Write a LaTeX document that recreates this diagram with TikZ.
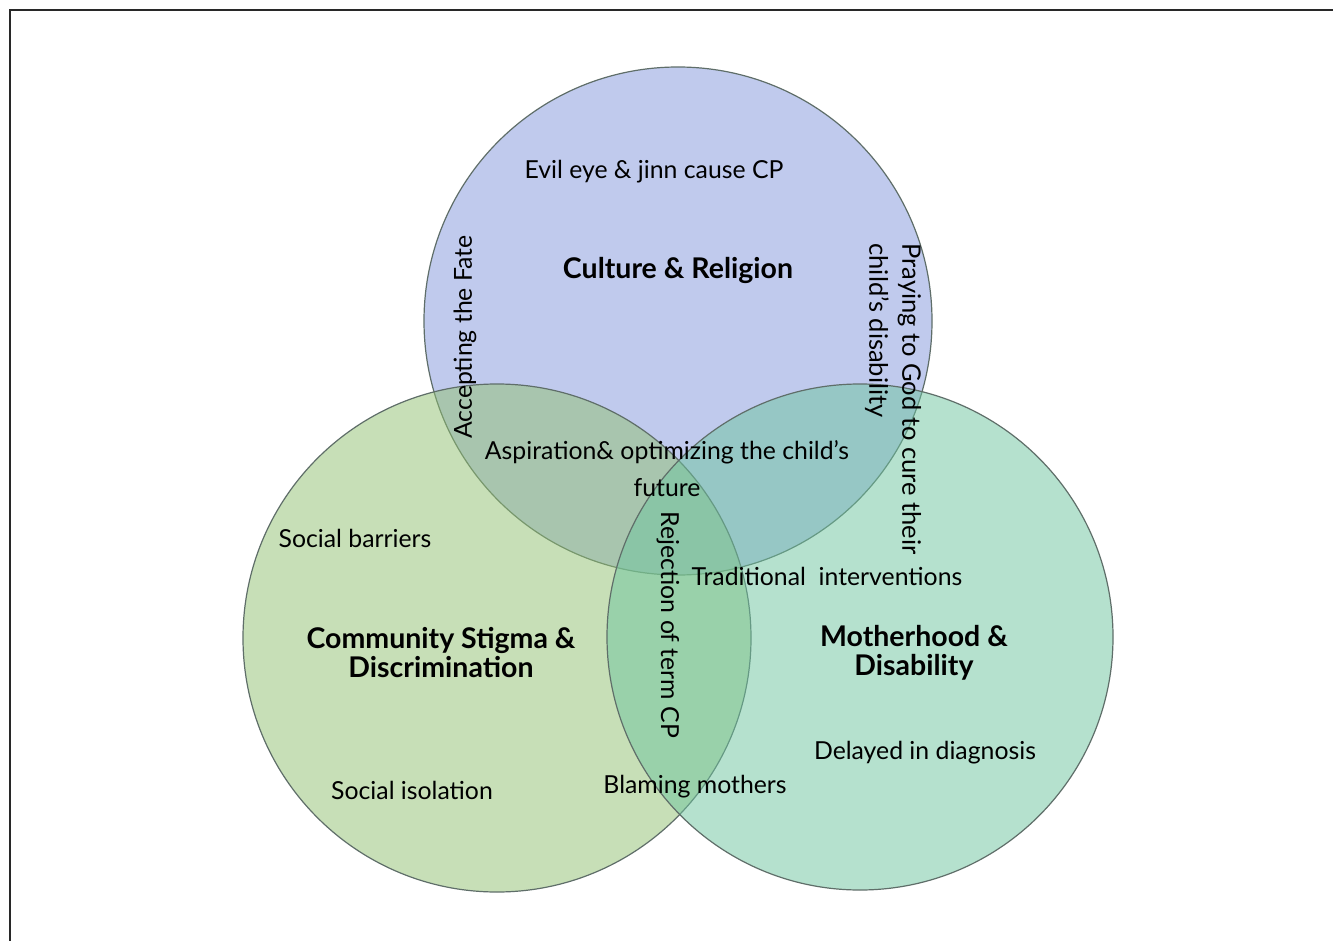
\documentclass[tikz,border=0pt]{standalone}
\usepackage{fontspec}
\setmainfont{Lato}
\definecolor{topc}{RGB}{131,151,221}
\definecolor{leftc}{RGB}{145,193,113}
\definecolor{rightc}{RGB}{109,197,159}
\definecolor{edgec}{RGB}{95,110,105}
\definecolor{framec}{RGB}{40,40,40}
\tikzset{
  setc/.style={draw=edgec, line width=1.2pt, fill opacity=0.5},
  lbl/.style={font=\fontsize{24.8}{28}\selectfont, text=black, inner sep=0pt},
  title/.style={lbl, font=\fontsize{28.5}{29}\selectfont\bfseries, align=center},
}
\begin{document}
\begin{tikzpicture}[x=1pt,y=-1pt]
\useasboundingbox (0,0) rectangle (1333,941);
\fill[white] (0,0) rectangle (1333,941);
\coordinate (fa) at (10,941);
\coordinate (fb) at (10,10);
\coordinate (fc) at (1333,10);
\draw[framec, line width=2pt] (fa) -- (fb) -- (fc);
% circles
\coordinate (cl) at (497,638);
\coordinate (cr) at (860,637);
\coordinate (ct) at (678,321);
\filldraw[setc, fill=topc] (ct) circle (254pt);
\filldraw[setc, fill=leftc] (cl) circle (254pt);
\filldraw[setc, fill=rightc] (cr) circle (253pt);
% labels
\node[lbl] (evil) at (654,172) {Evil eye \& jinn cause CP};
\node[title] (cult) at (678,270) {Culture \& Religion};
\node[lbl, rotate=90] (fate) at (465,337) {Accepting the Fate};
\node[lbl, rotate=-90, align=left, font=\fontsize{25.5}{33}\selectfont] (pray) at (893,399) {Praying to God to cure their\\child’s disability};
\node[lbl, align=center, font=\fontsize{24.8}{37}\selectfont] (asp) at (667,469) {Aspiration\& optimizing the child’s\\future};
\node[lbl, rotate=-90] (rej) at (668,625) {Rejection of term CP};
\node[lbl] (sb) at (355,538) {Social barriers};
\node[lbl] (ti) at (827,576) {Traditional\ \ interventions};
\node[title] (comm) at (441,653) {Community Stigma \&\\Discrimination};
\node[title] (moth) at (914,653) {Motherhood \&\\Disability};
\node[lbl] (del) at (925,753) {Delayed in diagnosis};
\node[lbl] (iso) at (412,790) {Social isolation};
\node[lbl] (blame) at (695,787) {Blaming mothers};
\end{tikzpicture}
\end{document}
